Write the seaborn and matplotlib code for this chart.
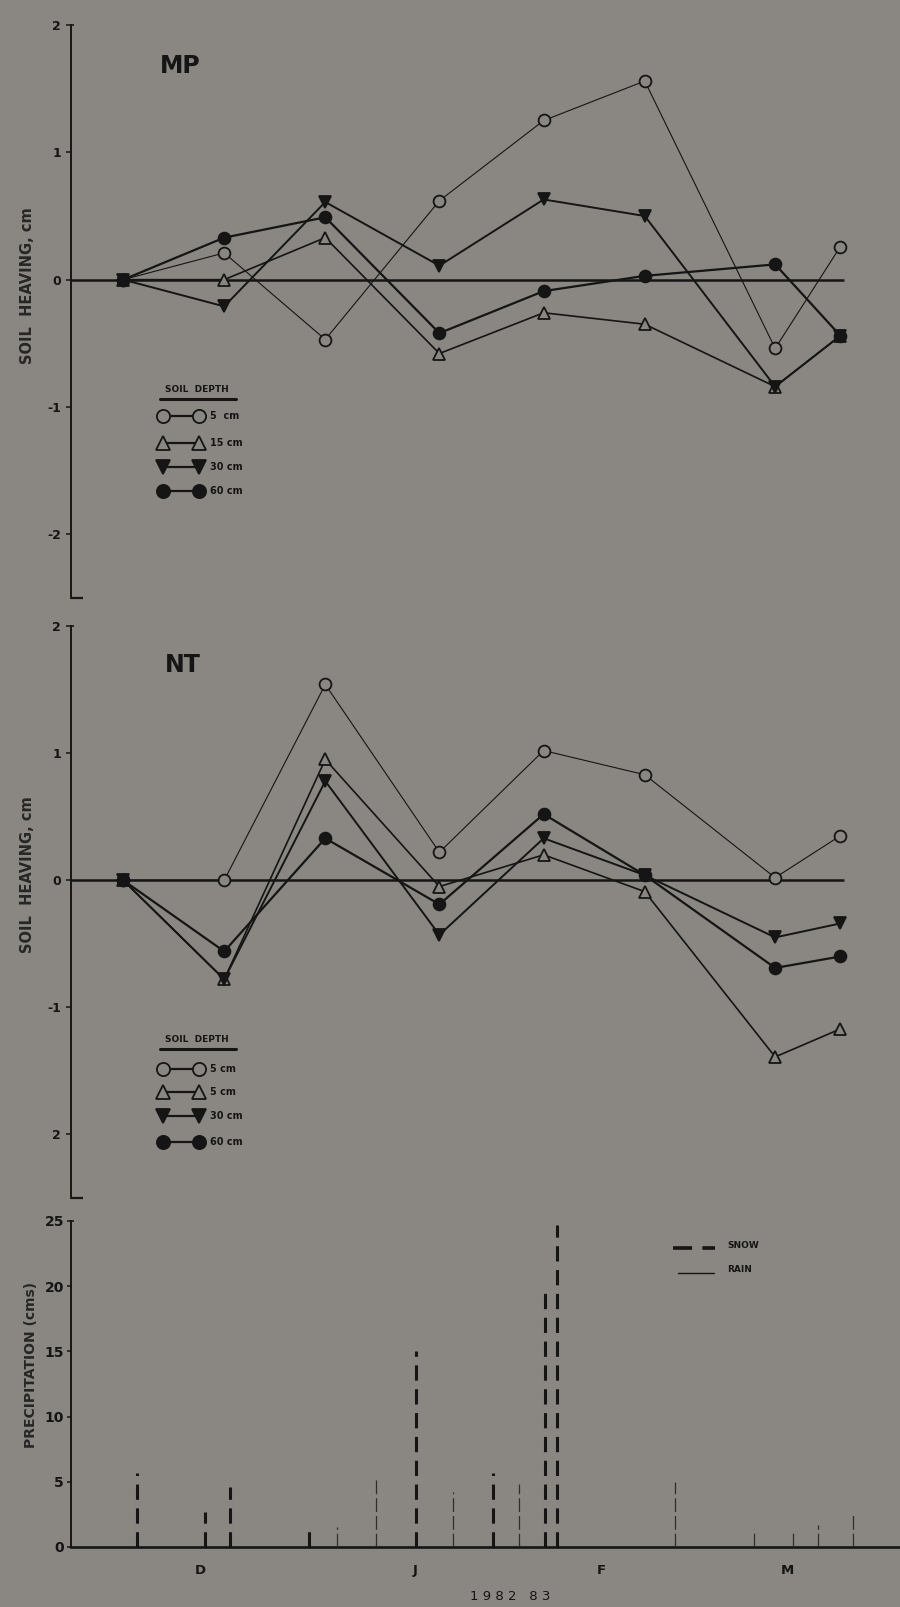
import matplotlib
matplotlib.use("Agg")
import matplotlib.pyplot as plt
from matplotlib.lines import Line2D
import seaborn as sns

# sampling dates, days from the start of the record
sample_day = [8, 23.5, 39, 56.5, 72.5, 88, 108, 118]

# soil heaving (cm) at plot MP, by depth
mp_5cm = [0, 0.21, -0.47, 0.62, 1.25, 1.56, -0.54, 0.26]
mp_15cm = [0, 0.00, 0.33, -0.58, -0.26, -0.35, -0.84, -0.44]
mp_30cm = [0, -0.21, 0.61, 0.11, 0.63, 0.50, -0.84, -0.44]
mp_60cm = [0, 0.33, 0.49, -0.42, -0.09, 0.03, 0.12, -0.44]

# soil heaving (cm) at plot NT, by depth
nt_5cm = [0, 0.00, 1.54, 0.22, 1.02, 0.83, 0.02, 0.35]
nt_15cm = [0, -0.78, 0.95, -0.05, 0.20, -0.09, -1.39, -1.17]
nt_30cm = [0, -0.78, 0.78, -0.43, 0.33, 0.04, -0.45, -0.34]
nt_60cm = [0, -0.56, 0.33, -0.19, 0.52, 0.04, -0.69, -0.60]

# precipitation events (cm)
snow_day = [10.1, 20.6, 24.4, 36.5, 52.9, 64.7, 72.7, 74.5]
snow_cm = [5.7, 2.7, 4.6, 1.5, 15.0, 5.7, 20.0, 24.7]
rain_day = [40.8, 46.8, 58.6, 68.7, 92.6, 104.8, 110.7, 114.6, 119.9]
rain_cm = [1.5, 5.1, 4.2, 4.8, 5.0, 1.4, 1.3, 1.7, 2.6]

month_day = [19.8, 52.8, 81.4, 109.8]
month_lbl = ["D", "J", "F", "M"]

depths = ["5 cm", "15 cm", "30 cm", "60 cm"]
mp_keys = ["5  cm", "15 cm", "30 cm", "60 cm"]
nt_keys = ["5 cm", "5 cm", "30 cm", "60 cm"]
mp_ticks = ["-2", "-1", "0", "1", "2"]
nt_ticks = ["2", "-1", "0", "1", "2"]

bg = "#8a8782"
ink = "#151515"

sns.set_theme(style="ticks")
plt.rcParams["font.family"] = ["DejaVu Sans"]
plt.rcParams["figure.facecolor"] = bg
plt.rcParams["axes.facecolor"] = bg
plt.rcParams["axes.edgecolor"] = ink
plt.rcParams["text.color"] = ink
plt.rcParams["xtick.color"] = ink
plt.rcParams["ytick.color"] = ink

W, H = 900, 1607
fig = plt.figure(figsize=(W / 100, H / 100), dpi=100)


def px(x):
    return x / W


def py(y):
    return 1 - y / H


def box(left, top, right, bottom):
    return [px(left), py(bottom), (right - left) / W, (bottom - top) / H]


XMAX = 829 / 6.52

ax_mp = fig.add_axes(box(71, 25, 900, 598))
ax_nt = fig.add_axes(box(71, 626, 900, 1198))
ax_pr = fig.add_axes(box(71, 1221, 900, 1547))

styles = {
    "5 cm": dict(marker="o", markerfacecolor=bg, linewidth=0.8, zorder=3),
    "15 cm": dict(marker="^", markerfacecolor=bg, linewidth=1.2, zorder=4),
    "30 cm": dict(marker="v", markerfacecolor=ink, linewidth=1.4, zorder=5),
    "60 cm": dict(marker="o", markerfacecolor=ink, linewidth=1.6, zorder=6),
}


def draw_site(ax, series, ticklabels, label_y):
    ax.hlines(0, 0, 118.6, color=ink, lw=1.8, zorder=2)
    for depth, vals in zip(depths, series):
        sns.lineplot(x=sample_day, y=vals, ax=ax, color=ink, errorbar=None,
                     markersize=8.5, markeredgecolor=ink, markeredgewidth=1.3,
                     **styles[depth])
    ax.set_xlim(0, XMAX)
    ax.set_ylim(-2.5, 2.0)
    for s in ("top", "right", "bottom"):
        ax.spines[s].set_visible(False)
    ax.spines["left"].set_bounds(-2.5, 2.0)
    ax.spines["left"].set_linewidth(1.4)
    ax.set_xticks([])
    ax.set_yticks([-2, -1, 0, 1, 2])
    ax.set_yticklabels(ticklabels, fontsize=9, fontweight="bold")
    ax.tick_params(axis="y", direction="out", length=3.6, width=1.1, pad=3.5)
    ax.hlines(-2.5, 0, 1.8, color=ink, lw=1.6, clip_on=False)
    ax.hlines(2.0, 0, 0.5, color=ink, lw=1.2, clip_on=False)
    ax.set_xlabel("")
    ax.set_ylabel("SOIL  HEAVING, cm", fontsize=10.5, fontweight="bold")
    ax.yaxis.set_label_coords(-0.044, label_y)


draw_site(ax_mp, [mp_5cm, mp_15cm, mp_30cm, mp_60cm], mp_ticks, 0.545)
draw_site(ax_nt, [nt_5cm, nt_15cm, nt_30cm, nt_60cm], nt_ticks, 0.566)

fig.text(px(180), py(66), "MP", fontsize=17, fontweight="bold",
         ha="center", va="center")
fig.text(px(183), py(665), "NT", fontsize=17, fontweight="bold",
         ha="center", va="center")


def draw_key(title_y, rows_y, labels):
    fig.text(px(197), py(title_y), "SOIL  DEPTH", fontsize=6.5,
             fontweight="bold", ha="center", va="center")
    fig.add_artist(Line2D([px(160), px(236)], [py(title_y + 10)] * 2,
                          color=ink, lw=2.2, transform=fig.transFigure))
    for depth, yy, lab in zip(depths, rows_y, labels):
        st = styles[depth]
        fig.add_artist(Line2D([px(163), px(199)], [py(yy)] * 2,
                              transform=fig.transFigure, color=ink, lw=1.6,
                              marker=st["marker"], markersize=9.5,
                              markerfacecolor=st["markerfacecolor"],
                              markeredgecolor=ink, markeredgewidth=1.3))
        fig.text(px(210), py(yy), lab, fontsize=7, fontweight="bold",
                 ha="left", va="center")


draw_key(389, [416, 443, 467, 491], mp_keys)
draw_key(1039, [1069, 1092, 1116, 1142], nt_keys)

# precipitation panel
snow_lw = 2.2
rain_lw = 0.9
ax_pr.vlines(snow_day, 0, snow_cm, colors=ink, linewidth=snow_lw,
             linestyles=[(0, (5.0, 2.8))], zorder=3)
ax_pr.vlines(rain_day, 0, rain_cm, colors="#2e2e2e", linewidth=rain_lw,
             linestyles=[(0, (11.0, 3.2))], zorder=3)
ax_pr.set_xlim(0, XMAX)
ax_pr.set_ylim(0, 25)
for s in ("top", "right"):
    ax_pr.spines[s].set_visible(False)
ax_pr.spines["left"].set_bounds(0, 25)
ax_pr.spines["left"].set_linewidth(1.4)
ax_pr.spines["bottom"].set_linewidth(1.9)
ax_pr.set_yticks([0, 5, 10, 15, 20, 25])
ax_pr.set_yticklabels(["0", "5", "10", "15", "20", "25"], fontsize=10,
                      fontweight="bold")
ax_pr.tick_params(axis="y", direction="out", length=3, width=1.1, pad=2)
ax_pr.set_xticks(month_day)
ax_pr.set_xticklabels(month_lbl, fontsize=9.5, fontweight="bold")
ax_pr.tick_params(axis="x", length=0, pad=12)
ax_pr.hlines(25, 0, 0.5, color=ink, lw=1.2, clip_on=False)
ax_pr.set_ylabel("PRECIPITATION (cms)", fontsize=10, fontweight="bold")
ax_pr.yaxis.set_label_coords(-0.040, 0.56)

fig.add_artist(Line2D([px(673), px(715)], [py(1248)] * 2, color=ink,
                      lw=snow_lw * 1.2, linestyle=(0, (5.2, 2.8)),
                      transform=fig.transFigure))
fig.add_artist(Line2D([px(678), px(714)], [py(1273)] * 2, color=ink,
                      lw=1.0, transform=fig.transFigure))
fig.text(px(727), py(1245), "SNOW", fontsize=6.5, fontweight="bold",
         ha="left", va="center")
fig.text(px(727), py(1270), "RAIN", fontsize=6.5, fontweight="bold",
         ha="left", va="center")

fig.text(px(510), py(1596), "1 9 8 2   8 3", fontsize=9.5,
         ha="center", va="center")

fig.savefig("out.png", dpi=100, facecolor=bg)
